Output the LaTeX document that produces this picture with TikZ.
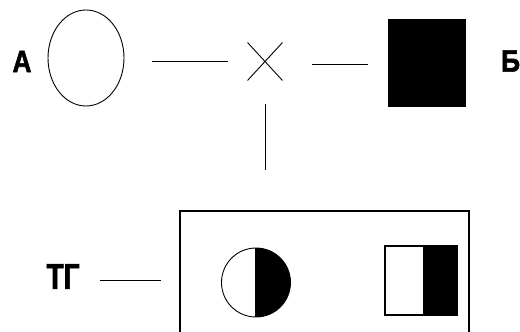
\documentclass[tikz,border=0pt]{standalone}
\usepackage{fontspec}
\setmainfont{Liberation Sans}
\newfontfamily\heavy[FakeBold=2]{Liberation Sans Bold}
\usetikzlibrary{shapes.geometric,shapes.misc}
\begin{document}
\begin{tikzpicture}[x=1pt,y=-1pt,
  lbl/.style={inner sep=0pt, anchor=center},
  thin line/.style={line width=0.9pt},
  conn/.style={line width=1.3pt}]
\useasboundingbox (0,0) rectangle (520,332);
% parents
\node[ellipse, draw, line width=0.9pt, minimum width=76, minimum height=96, inner sep=0pt] (A) at (86,58) {};
\node[lbl, font=\fontsize{31}{31}\heavy, xscale=0.85] (la) at (22,61.5) {А};
\node[fill=black, draw, minimum width=77, minimum height=87, inner sep=0pt] (B) at (426.5,62.5) {};
\node[lbl, font=\fontsize{31}{31}\heavy, xscale=0.85, anchor=west] (lb) at (501,61) {Б};
% cross
\node[cross out, draw, line width=0.9pt, minimum width=34, minimum height=37, inner sep=0pt] (X) at (265,61.5) {};
\draw[conn, shorten <=28pt, shorten >=20pt] (X.west -| A.east) -- (X.west);
\draw[thin line, shorten <=30pt, shorten >=20pt] ([yshift=-3pt]X.east) -- ([yshift=-3pt]X.east -| B.west);
% offspring box
\node[draw, line width=1.2pt, minimum width=289, minimum height=140, inner sep=0pt] (box) at (324.5,281) {};
\draw[thin line, shorten <=24pt, shorten >=40pt] (X.south) -- (X.south |- box.north);
\node[lbl, font=\fontsize{36}{36}\heavy, xscale=0.78] (tg) at (63,276.5) {ТГ};
\draw[conn, shorten <=20pt, shorten >=18pt] ([yshift=-4pt]tg.east) -- ([yshift=-4pt]tg.east -| box.west);
% half-filled circle
\node[circle, minimum size=69, inner sep=0pt] (C) at (256,282.5) {};
\begin{scope}
  \clip (C.north) rectangle ([xshift=40pt]C.south);
  \fill (C.center) circle[radius=34.5];
\end{scope}
\draw[line width=0.9pt] (C.center) circle[radius=34.5];
\draw[line width=1.6pt] (C.north) -- (C.south);
% half-filled square
\node[draw, line width=1.2pt, minimum width=72, minimum height=69, inner sep=0pt] (R) at (421,280.5) {};
\fill (423,246) rectangle (R.south east);
\end{tikzpicture}
\end{document}
